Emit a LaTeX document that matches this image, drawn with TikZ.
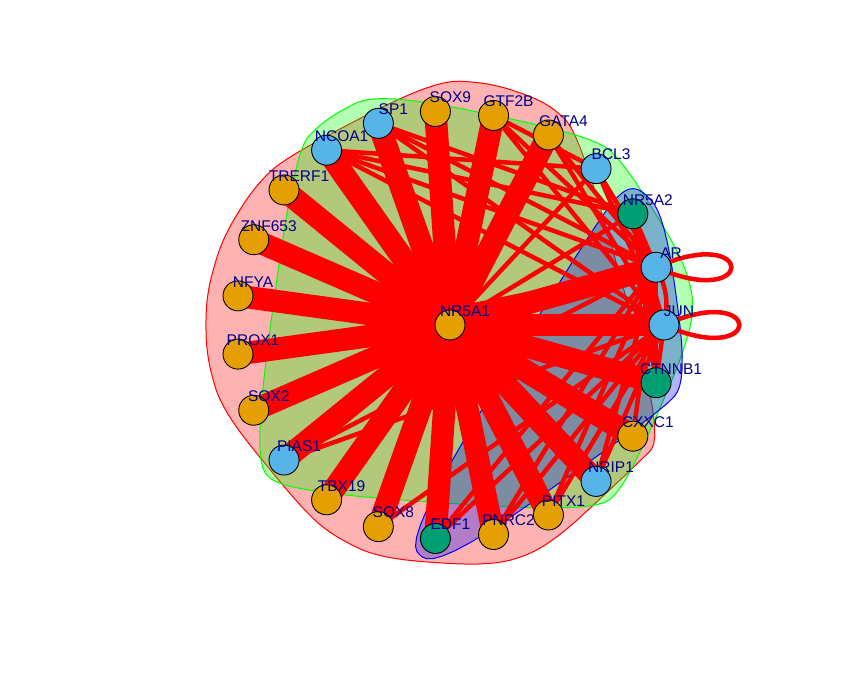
\documentclass[tikz,border=0pt]{standalone}
\usepackage{fontspec}
\setmainfont{Liberation Sans}
\usetikzlibrary{calc}
\definecolor{vorange}{HTML}{E69F00}
\definecolor{vblue}{HTML}{56B4E9}
\definecolor{vgreen}{HTML}{009E73}
\definecolor{lblue}{HTML}{00008B}
\pgfdeclarelayer{back}
\pgfsetlayers{back,main}

% closed X-spline (Blanc-Schlick, shape 0.5 at every control point), as R's xspline()
\newcommand\XSdraw[4]{%
  \global\let\XSlist\relax
  \pgfmathtruncatemacro\XSlast{#2-1}%
  \foreach \XSk in {0,...,\XSlast} {%
    \pgfmathtruncatemacro\XSia{mod(\XSk-1+#2,#2)}%
    \pgfmathtruncatemacro\XSib{\XSk}%
    \pgfmathtruncatemacro\XSic{mod(\XSk+1,#2)}%
    \pgfmathtruncatemacro\XSid{mod(\XSk+2,#2)}%
    \pgfmathsetmacro\XSxa{#3[\XSia]}\pgfmathsetmacro\XSya{#4[\XSia]}%
    \pgfmathsetmacro\XSxb{#3[\XSib]}\pgfmathsetmacro\XSyb{#4[\XSib]}%
    \pgfmathsetmacro\XSxc{#3[\XSic]}\pgfmathsetmacro\XSyc{#4[\XSic]}%
    \pgfmathsetmacro\XSxd{#3[\XSid]}\pgfmathsetmacro\XSyd{#4[\XSid]}%
    \foreach \XSt in {0,0.1,0.2,0.3,0.4,0.5,0.6,0.7,0.8,0.9} {%
      \pgfmathsetmacro\XSwa{ifthenelse(\XSt<0.5, xsf((0.5-\XSt)/1.5), 0)}%
      \pgfmathsetmacro\XSwb{xsf((1.5-\XSt)/1.5)}%
      \pgfmathsetmacro\XSwc{xsf((\XSt+0.5)/1.5)}%
      \pgfmathsetmacro\XSwd{ifthenelse(\XSt>0.5, xsf((\XSt-0.5)/1.5), 0)}%
      \pgfmathsetmacro\XSsum{\XSwa+\XSwb+\XSwc+\XSwd}%
      \pgfmathsetmacro\XSx{(\XSwa*\XSxa+\XSwb*\XSxb+\XSwc*\XSxc+\XSwd*\XSxd)/\XSsum}%
      \pgfmathsetmacro\XSy{(\XSwa*\XSya+\XSwb*\XSyb+\XSwc*\XSyc+\XSwd*\XSyd)/\XSsum}%
      \ifx\XSlist\relax\xdef\XSlist{(\XSx,\XSy)}\else\xdef\XSlist{\XSlist -- (\XSx,\XSy)}\fi
    }%
  }%
  \edef\XStmp{\noexpand\path[#1] \XSlist -- cycle;}\XStmp
}

% hull control points (convex hull of each group's vertices, expanded)
\def\pinkX{{664.85,580.46,548.46,493.54,435.39,283.99,251.99,221.70,205.98,205.98,221.70,294.58,326.58,378.33,493.54,548.46,632.85}}
\def\pinkY{{235.81,537.01,569.01,588.53,592.51,514.06,482.06,432.26,376.14,317.86,261.74,172.16,140.16,113.35,105.47,124.99,203.81}}
\def\greenX{{696,688.06,628.07,596.07,378.33,326.58,294.58,251.99,283.99,596.07,628.07}}
\def\greenY{{347,404.74,503.40,535.40,580.65,553.84,521.84,211.94,179.94,158.60,190.60}}
\def\blueX{{688.06,664.85,632.85,600.85,403.39,435.39,656.06}}
\def\blueY{{289.26,458.19,490.19,458.19,133.49,101.49,257.26}}

\begin{document}
\begin{tikzpicture}[x=1pt,y=1pt,
  declare function={xsf(\u)=\u*\u*\u*(5.5-6*\u+1.5*\u*\u);},
  vtx/.style={circle,draw=black,line width=0.9pt,minimum size=30pt,inner sep=0pt},
  lbl/.style={text=lblue,font=\fontsize{15.5}{15.5}\selectfont,inner sep=0pt},
  fatedge/.style={draw=red,line width=22.5pt,line cap=round},
  slimedge/.style={draw=red,line width=4.5pt,line cap=round},
  grp/.style={fill=#1,fill opacity=0.3,draw=#1,line width=1pt}]
\useasboundingbox (0,0) rectangle (864,672);

% vertices
\node[vtx,fill=vorange] (NR5A1) at (450,347) {};
\foreach \nm/\k/\col in {JUN/0/vblue,AR/1/vblue,NR5A2/2/vgreen,BCL3/3/vblue,
  GATA4/4/vorange,GTF2B/5/vorange,SOX9/6/vorange,SP1/7/vblue,NCOA1/8/vblue,
  TRERF1/9/vorange,ZNF653/10/vorange,NFYA/11/vorange,PROX1/12/vorange,
  SOX2/13/vorange,PIAS1/14/vblue,TBX19/15/vorange,SOX8/16/vorange,
  EDF1/17/vgreen,PNRC2/18/vorange,PITX1/19/vorange,NRIP1/20/vblue,
  CXXC1/21/vorange,CTNNB1/22/vgreen}
  \node[vtx,fill=\col] (\nm) at ($(450,347)+(\k*15.65217:214)$) {};

% labels
\foreach \nm in {NR5A1,JUN,AR,NR5A2,BCL3,GATA4,GTF2B,SOX9,SP1,NCOA1,TRERF1,
  ZNF653,NFYA,PROX1,SOX2,PIAS1,TBX19,SOX8,EDF1,PNRC2,PITX1,NRIP1,CXXC1,CTNNB1}
  \node[lbl] at ($(\nm)+(15,14)$) {\nm};

\begin{pgfonlayer}{back}
  \fill[white] (0,0) rectangle (864,672);
  % group marks
  \XSdraw{grp=red}{17}{\pinkX}{\pinkY}
  \XSdraw{grp=green}{11}{\greenX}{\greenY}
  \XSdraw{grp=blue}{7}{\blueX}{\blueY}
  % thick edges from NR5A1
  \foreach \nm in {JUN,AR,GATA4,GTF2B,SOX9,SP1,NCOA1,TRERF1,ZNF653,NFYA,PROX1,
    SOX2,PIAS1,TBX19,SOX8,EDF1,PNRC2,PITX1,NRIP1,CXXC1,CTNNB1}
    \draw[fatedge] (NR5A1.center) -- (\nm.center);
  % thin edges
  \foreach \a/\b in {NR5A1/BCL3,NR5A1/NR5A2,NCOA1/BCL3,NCOA1/NR5A2,NCOA1/AR,
    NCOA1/JUN,SP1/AR,SP1/JUN,SP1/NR5A2,GTF2B/BCL3,GTF2B/AR,GTF2B/JUN,
    GATA4/AR,GATA4/JUN,BCL3/AR,BCL3/JUN,NR5A2/AR,NR5A2/JUN,NR5A2/CTNNB1,
    AR/CTNNB1,AR/NRIP1,AR/PIAS1,AR/PNRC2,AR/PITX1,AR/EDF1,AR/PROX1,AR/CXXC1,
    JUN/CTNNB1,JUN/NRIP1,JUN/PIAS1,JUN/SOX8,JUN/EDF1,JUN/PNRC2,JUN/PITX1}
    \draw[slimedge] (\a.center) -- (\b.center);
  \draw[slimedge] (AR.center) to[bend right=25] (JUN.center);
  \draw[slimedge] (AR.center) to[bend right=45] (JUN.center);
  \draw[slimedge] (AR.center) to[bend left=20] (JUN.center);
  % self-loops
  \draw[slimedge] (AR.center) .. controls +(24:110) and +(-24:110) .. (AR.center);
  \draw[slimedge] (JUN.center) .. controls +(24:110) and +(-24:110) .. (JUN.center);
\end{pgfonlayer}
\end{tikzpicture}
\end{document}
